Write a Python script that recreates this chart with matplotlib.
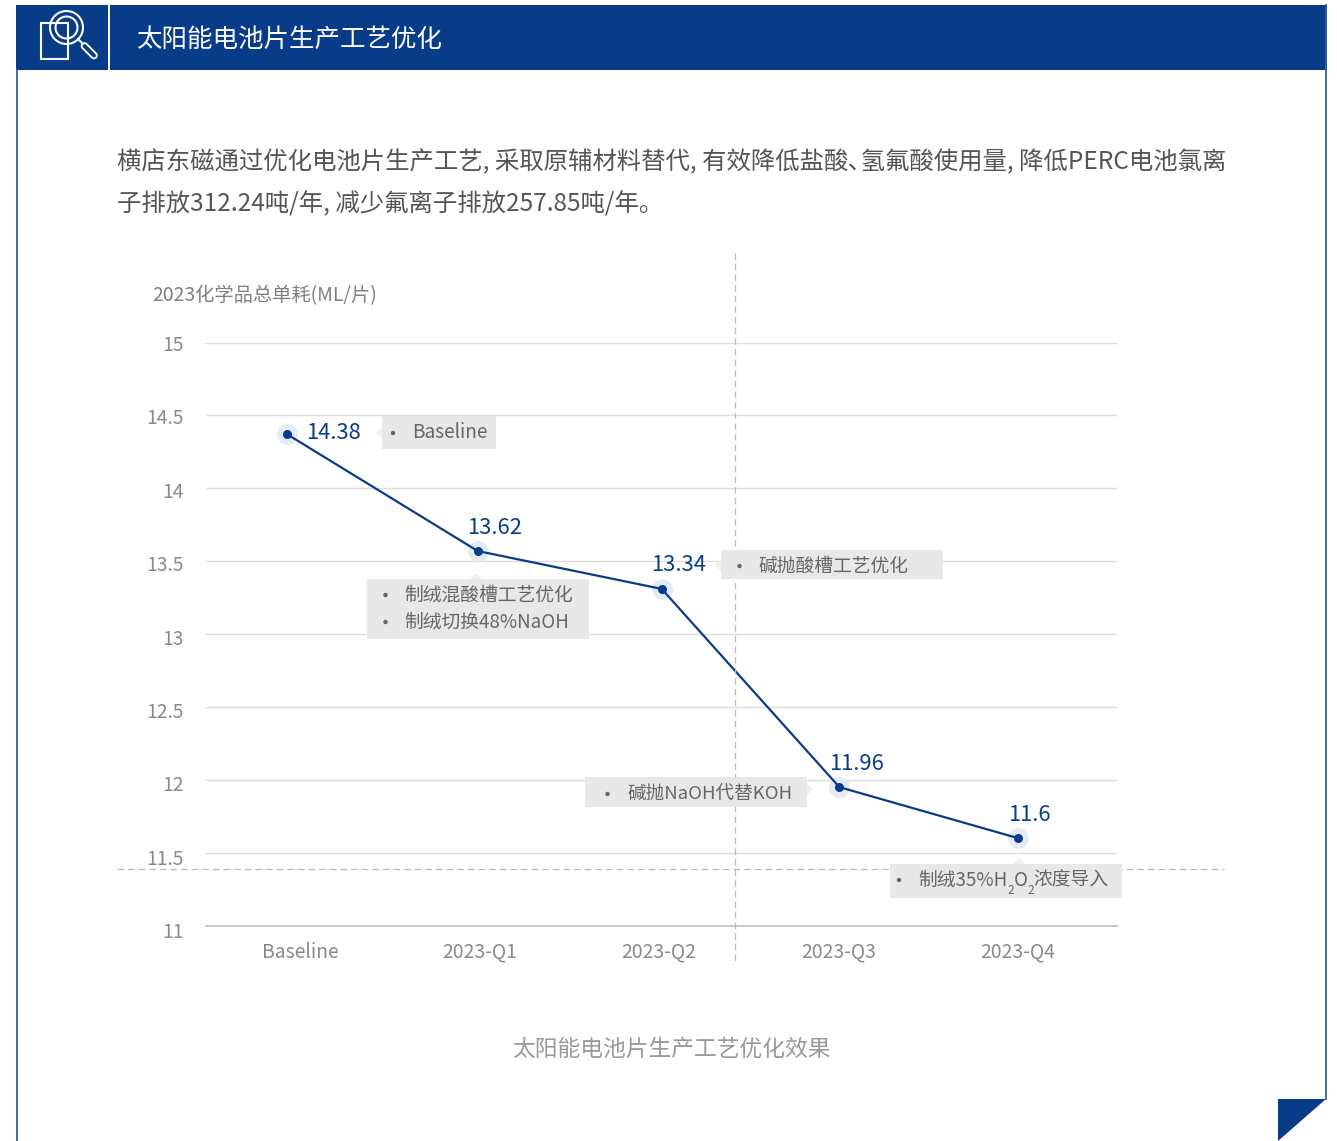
import matplotlib
matplotlib.use("Agg")
import matplotlib.pyplot as plt
from matplotlib.patches import Rectangle, Polygon, Circle
from matplotlib.transforms import ScaledTranslation

plt.rcParams['font.family'] = ['Noto Sans CJK SC', 'DejaVu Sans']

W, H = 1337, 1141
BLUE = '#083c88'
categories = ['Baseline', '2023-Q1', '2023-Q2', '2023-Q3', '2023-Q4']
point_x = [-0.07, 0.99, 2.015, 3.005, 4.0]
plotted_values = [14.37, 13.57, 13.31, 11.95, 11.60]
value_labels = ['14.38', '13.62', '13.34', '11.96', '11.6']
y_ticks = [11, 11.5, 12, 12.5, 13, 13.5, 14, 14.5, 15]
y_tick_labels = ['11', '11.5', '12', '12.5', '13', '13.5', '14', '14.5', '15']
header = '太阳能电池片生产工艺优化'
body_1 = '横店东磁通过优化电池片生产工艺, 采取原辅材料替代, 有效降低盐酸､氢氟酸使用量, 降低PERC电池氯离'
body_2 = '子排放312.24吨/年, 减少氟离子排放257.85吨/年。'
y_title = '2023化学品总单耗(ML/片)'
caption = '太阳能电池片生产工艺优化效果'

fig = plt.figure(figsize=(W / 100, H / 100), dpi=100, facecolor='white')

# chart axes: pixel box 206..1117 x 343..926
ax = fig.add_axes([206 / W, 1 - 925.6 / H, (1117 - 206) / W, (925.6 - 342.6) / H], zorder=1)
ax.set_facecolor('none')
ax.set_ylim(11, 15)
ax.set_xlim((206 - 300) / 179.5, (1117 - 300) / 179.5)
ax.set_yticks(y_ticks, y_tick_labels)
ax.set_xticks(range(len(categories)), categories)
ax.tick_params(axis='both', length=0, labelsize=13.9, labelcolor='#8a8a8a')
ax.tick_params(axis='y', pad=15.8)
ax.tick_params(axis='x', pad=11.5)
for lab, v in zip(ax.get_yticklabels(), y_ticks):
    lab.set_verticalalignment('center')
    lab.set_transform(lab.get_transform()
                      + ScaledTranslation(0, -(3 + (15 - v)) / 100, fig.dpi_scale_trans))
ax.grid(axis='y', color='#dcdcdc', lw=1)
ax.set_axisbelow(True)
for s in ['top', 'right', 'left']:
    ax.spines[s].set_visible(False)
ax.spines['bottom'].set_color('#c8c8c8')
ax.spines['bottom'].set_linewidth(1.4)
ax.plot(point_x, plotted_values, color=BLUE, lw=1.6, zorder=3)
ax.plot(point_x, plotted_values, 'o', ms=15, mfc='#e5ebf4', mec='none', zorder=2)
ax.plot(point_x, plotted_values, 'o', ms=6.5, mfc=BLUE, mec='none', zorder=4)

# pixel-space overlay
ov = fig.add_axes([0, 0, 1, 1], zorder=2)
ov.set_xlim(0, W)
ov.set_ylim(H, 0)
ov.axis('off')
ov.patch.set_alpha(0)

# frame
ov.plot([16.5, 16.5], [70, H], color='#2f5ea3', lw=1.3)
ov.plot([1326, 1326], [5, 1099], color='#2f5ea3', lw=1.3)
ov.add_patch(Rectangle((16, 5), 1310.5, 65, fc=BLUE, ec='none'))
ov.add_patch(Rectangle((108, 5), 2.2, 65, fc='white', ec='none'))
ov.add_patch(Polygon([(1278, 1099), (1326, 1099), (1278, 1141)], fc=BLUE, ec='none'))
ov.text(136.5, 39.5, header, color='white', fontsize=18.35, va='center', ha='left')

# icon
ov.add_patch(Rectangle((40.5, 23), 27.5, 36, fc='none', ec='white', lw=1.5))
ov.add_patch(Circle((66.5, 27.5), 16.5, fc='none', ec='white', lw=1.5))
ov.add_patch(Circle((66.5, 27.5), 11, fc='none', ec='white', lw=1.5))
ov.plot([78, 84], [39, 45], color='white', lw=1.5)
ov.plot([84.5, 94], [46, 55.5], color='white', lw=5.5, solid_capstyle='round')
ov.plot([84.5, 94], [46, 55.5], color=BLUE, lw=2.8, solid_capstyle='round')

# body text
ov.text(117, 162.5, body_1, color='#555555', fontsize=17.58, va='center', ha='left')
ov.text(117, 204.5, body_2, color='#555555', fontsize=17.58, va='center', ha='left')
ov.text(152.5, 296, y_title, color='#808080', fontsize=13.9, va='center', ha='left')
ov.text(671, 1049.5, caption, color='#999999', fontsize=16.4, va='center', ha='center')

# dashed guides
ov.plot([117, 1224], [869.2, 869.2], color='#b8b8b8', lw=0.9, ls=(0, (5, 3.5)), zorder=1)
ov.plot([735, 735], [253, 965], color='#b8b8b8', lw=0.9, ls=(0, (5, 3.5)), zorder=1)

# value labels
value_pos = [(333.5, 433), (495, 528), (678.5, 565), (857, 764), (1029, 815)]
for (px, py), t in zip(value_pos, value_labels):
    ov.text(px, py, t, color=BLUE, fontsize=15.8, ha='center', va='center', zorder=5)

BOX = '#e8e8e8'
TXT = '#666666'


def box(x0, x1, y0, y1, tri):
    ov.add_patch(Rectangle((x0, y0), x1 - x0, y1 - y0, fc=BOX, ec='none', zorder=3))
    ov.add_patch(Polygon(tri, fc='#efefef', ec='none', zorder=3))


def note(bx, tx, y, t, fs=13.5):
    ov.add_patch(Circle((bx, y), 2.2, fc=TXT, ec='none', zorder=4))
    ov.text(tx, y, t, color=TXT, fontsize=fs, ha='left', va='center', zorder=5)


box(382, 496, 416, 449, [(382, 427), (376, 433), (382, 438)])
note(393, 412.5, 433, 'Baseline', fs=13.7)
box(367, 589, 579, 639, [(470, 579), (476, 573), (482, 579)])
note(385.5, 404.5, 595, '制绒混酸槽工艺优化')
note(385.5, 404.5, 622, '制绒切换48%NaOH')
box(721, 943, 550, 579, [(721, 559), (715, 565), (721, 571)])
note(739.5, 758.5, 566, '碱抛酸槽工艺优化')
box(585, 807, 777, 807, [(807, 783), (813, 789), (807, 795)])
note(607.5, 627.5, 794, '碱抛NaOH代替KOH', fs=13.4)
box(890, 1122, 864, 898, [(1013, 864), (1019, 858), (1025, 864)])
note(899, 918.5, 880, '制绒35%H')
ov.text(1007.5, 890, '2', color=TXT, fontsize=8.5, ha='left', va='center', zorder=6)
ov.text(1014, 880, 'O', color=TXT, fontsize=13.5, ha='left', va='center', zorder=5)
ov.text(1027, 890, '2', color=TXT, fontsize=8.5, ha='left', va='center', zorder=6)
ov.text(1033.5, 880, '浓度导入', color=TXT, fontsize=13.5, ha='left', va='center', zorder=5)

fig.savefig('out.png', dpi=100)
